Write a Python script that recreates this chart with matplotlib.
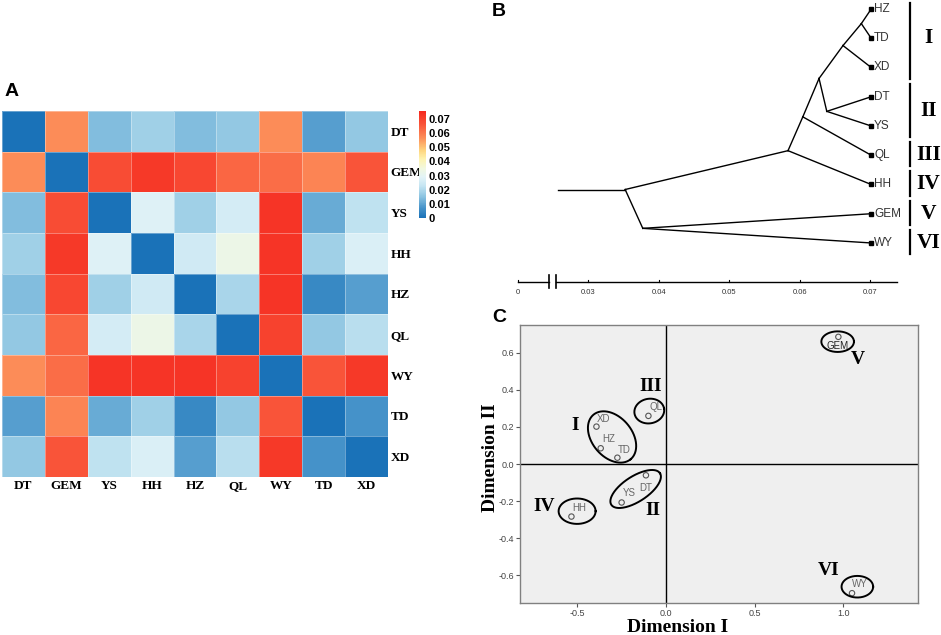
import numpy as np
import matplotlib
matplotlib.use("Agg")
import matplotlib.pyplot as plt
from matplotlib.colors import LinearSegmentedColormap

W, H = 941, 635
fig = plt.figure(figsize=(W / 100, H / 100), dpi=100)
SERIF = "Liberation Serif"
SANS = "Liberation Sans"


def fr(x0, y0, x1, y1):
    return [x0 / W, 1 - y1 / H, (x1 - x0) / W, (y1 - y0) / H]


# ---------------- data ----------------
pops = ["DT", "GEM", "YS", "HH", "HZ", "QL", "WY", "TD", "XD"]
dist = [
    [0.000, 0.057, 0.014, 0.018, 0.014, 0.016, 0.057, 0.009, 0.016],
    [0.057, 0.000, 0.068, 0.072, 0.069, 0.063, 0.062, 0.058, 0.066],
    [0.014, 0.068, 0.000, 0.028, 0.018, 0.026, 0.073, 0.011, 0.022],
    [0.018, 0.072, 0.028, 0.000, 0.025, 0.033, 0.073, 0.018, 0.027],
    [0.014, 0.069, 0.018, 0.025, 0.000, 0.019, 0.073, 0.005, 0.009],
    [0.016, 0.063, 0.026, 0.033, 0.019, 0.000, 0.070, 0.016, 0.021],
    [0.057, 0.062, 0.073, 0.073, 0.073, 0.070, 0.000, 0.066, 0.072],
    [0.009, 0.058, 0.011, 0.018, 0.005, 0.016, 0.066, 0.000, 0.007],
    [0.016, 0.066, 0.022, 0.027, 0.009, 0.021, 0.072, 0.007, 0.000],
]
cbar_ticks = [0, 0.01, 0.02, 0.03, 0.04, 0.05, 0.06, 0.07]
cbar_labels = ["0", "0.01", "0.02", "0.03", "0.04", "0.05", "0.06", "0.07"]

# dendrogram
leaf_order = ["HZ", "TD", "XD", "DT", "YS", "QL", "HH", "GEM", "WY"]
leaf_height = 0.0701
merges = [
    ("n1", "HZ", "TD", 0.0687),
    ("n2", "n1", "XD", 0.0661),
    ("n3", "DT", "YS", 0.0638),
    ("n4", "n2", "n3", 0.0627),
    ("n5", "n4", "QL", 0.0604),
    ("n6", "n5", "HH", 0.0583),
    ("n7", "GEM", "WY", 0.0377),
    ("root", "n6", "n7", 0.0352),
]
root_start = 0.0257
scale_ticks = [0.02, 0.03, 0.04, 0.05, 0.06, 0.07]
scale_labels = ["0", "0.03", "0.04", "0.05", "0.06", "0.07"]
tree_groups = [("I", ["HZ", "TD", "XD"]), ("II", ["DT", "YS"]), ("III", ["QL"]),
               ("IV", ["HH"]), ("V", ["GEM"]), ("VI", ["WY"])]

# PCoA
pcoa_names = ["GEM", "QL", "XD", "HZ", "TD", "DT", "YS", "HH", "WY"]
dim1 = [0.972, -0.099, -0.392, -0.368, -0.274, -0.113, -0.250, -0.533, 1.049]
dim2 = [0.687, 0.260, 0.202, 0.085, 0.034, -0.061, -0.208, -0.284, -0.698]
label_offsets_px = [(-1, -9), (8, 9), (7, 8), (8, 9), (7, 8), (0, -13), (8, 9), (8, 9), (8, 9)]
# clusters: name, centre x, centre y, semi-axes (px), angle, numeral position
clusters = [
    ("I", -0.304, 0.146, 29, 20, -50, -0.510, 0.208),
    ("II", -0.171, -0.135, 29, 12.6, 33, -0.075, -0.251),
    ("III", -0.094, 0.286, 15, 12.3, 10, -0.088, 0.421),
    ("IV", -0.501, -0.255, 18.5, 12.7, 0, -0.685, -0.231),
    ("V", 0.968, 0.661, 16.3, 10.3, 0, 1.081, 0.566),
    ("VI", 1.079, -0.663, 15.8, 10.8, 0, 0.919, -0.573),
]

# ---------------- Panel A ----------------
cmap = LinearSegmentedColormap.from_list(
    "rdylbu_c",
    [(0.0, "#1a72b8"), (0.10, "#4a96cb"), (0.20, "#8cc4e1"), (0.30, "#c5e5f2"),
     (0.38, "#e2f3f7"), (0.46, "#f1f8e0"), (0.55, "#fef3b0"), (0.63, "#fed680"),
     (0.75, "#fc8d59"), (0.87, "#f9563a"), (1.0, "#f5281e")])
axA = fig.add_axes(fr(2, 111, 388, 477))
mesh = axA.pcolormesh(np.array(dist), cmap=cmap, vmin=0, vmax=0.0757,
                      edgecolors=(1, 1, 1, 0.35), linewidth=0.6)
axA.set_xlim(0, 9)
axA.set_ylim(9, 0)
axA.set_xticks(np.arange(9) + 0.5)
axA.set_xticklabels(pops, fontfamily=SERIF, fontweight="bold", fontsize=9.5)
axA.yaxis.tick_right()
axA.set_yticks(np.arange(9) + 0.5)
axA.set_yticklabels(pops, fontfamily=SERIF, fontweight="bold", fontsize=9.5)
axA.tick_params(length=0, pad=2)
for s in axA.spines.values():
    s.set_visible(False)

cax = fig.add_axes(fr(419, 111, 426, 218))
cb = fig.colorbar(mesh, cax=cax, ticks=cbar_ticks)
cb.ax.set_yticklabels(cbar_labels, fontfamily=SANS, fontweight="bold", fontsize=8)
cb.ax.tick_params(length=0, pad=2)
cb.outline.set_visible(False)

fig.text(5 / W, 1 - 91 / H, "A", fontfamily=SANS, fontweight="bold", fontsize=14,
         va="center", ha="left")

# ---------------- Panel B ----------------
axB = fig.add_axes(fr(480, 0, 941, 300))
axB.axis("off")
axB.set_xlim(0.01461, 0.08)
axB.set_ylim(9.95, -0.308)
pos = {n: (leaf_height, i) for i, n in enumerate(leaf_order)}
for name, a, b, h in merges:
    ya, yb = pos[a][1], pos[b][1]
    pos[name] = (h, (ya + yb) / 2)
    for c in (a, b):
        axB.plot([h, pos[c][0]], [pos[name][1], pos[c][1]], color="black", lw=1)
axB.plot([root_start, pos["root"][0]], [pos["root"][1]] * 2, color="black", lw=1)
lx = [pos[n][0] for n in leaf_order]
ly = [pos[n][1] for n in leaf_order]
axB.plot(lx, ly, "s", color="black", ms=3.5, ls="none")
for n in leaf_order:
    axB.text(pos[n][0] + 0.0004, pos[n][1], n, fontfamily=SANS, fontsize=8.5,
             color="#333333", va="center", ha="left")

ysc = 9.33
axB.plot([scale_ticks[0], 0.0244], [ysc, ysc], color="black", lw=1)
axB.plot([0.0254, 0.0738], [ysc, ysc], color="black", lw=1)
for bx in (0.0244, 0.0254):
    axB.plot([bx, bx], [ysc - 0.22, ysc + 0.22], color="black", lw=1.2)
for t, lab in zip(scale_ticks, scale_labels):
    axB.plot([t, t], [ysc, ysc - 0.06], color="black", lw=0.8)
    axB.text(t, ysc + 0.38, lab, fontfamily=SANS, fontsize=5.5, color="#333333",
             ha="center", va="center")

for g, members in tree_groups:
    idx = [leaf_order.index(m) for m in members]
    y0 = max(min(idx) - 0.45, -0.2)
    y1 = max(idx) + 0.38
    axB.plot([0.0756, 0.0756], [y0, y1], color="black", lw=1.6)
    axB.text(0.0782, np.mean(idx), g, fontfamily=SERIF, fontweight="bold", fontsize=15.5,
             ha="center", va="center")

fig.text(492 / W, 1 - 12 / H, "B", fontfamily=SANS, fontweight="bold", fontsize=14,
         va="center", ha="left")

# ---------------- Panel C ----------------
axC = fig.add_axes(fr(520, 325, 918, 603))
axC.set_facecolor("#efefef")
axC.set_xlim(-0.823, 1.421)
axC.set_ylim(-0.751, 0.751)
for s in axC.spines.values():
    s.set_color("#808080")
    s.set_linewidth(1)
axC.axhline(0, color="black", lw=1)
axC.axvline(0, color="black", lw=1)
axC.set_xticks([-0.5, 0.0, 0.5, 1.0])
axC.set_xticklabels(["-0.5", "0.0", "0.5", "1.0"])
axC.set_yticks([-0.6, -0.4, -0.2, 0.0, 0.2, 0.4, 0.6])
axC.set_yticklabels(["-0.6", "-0.4", "-0.2", "0.0", "0.2", "0.4", "0.6"])
axC.tick_params(direction="out", length=3, width=0.8, color="#555555", labelsize=6.5,
                labelcolor="#444444", pad=1.5)
for lab in axC.get_xticklabels() + axC.get_yticklabels():
    lab.set_fontfamily(SANS)

axC.scatter(dim1, dim2, s=15, facecolors="none", edgecolors="#555555", linewidths=0.8,
            zorder=3)
for n, x, y, (dx, dy) in zip(pcoa_names, dim1, dim2, label_offsets_px):
    axC.annotate(n, (x, y), xytext=(dx * 0.72, dy * 0.72), textcoords="offset points",
                 ha="center", va="center", fontfamily=SANS, fontsize=7,
                 color="#222222" if n == "GEM" else "#666666")

sx = 398 / (1.421 + 0.823)
sy = 278 / 1.502
t = np.linspace(0, 2 * np.pi, 200)
for g, cx, cy, a, b, ang, tx, ty in clusters:
    th = np.deg2rad(ang)
    ex = cx + (a * np.cos(t) * np.cos(th) - b * np.sin(t) * np.sin(th)) / sx
    ey = cy + (a * np.cos(t) * np.sin(th) + b * np.sin(t) * np.cos(th)) / sy
    axC.plot(ex, ey, color="black", lw=1.4, zorder=4)
    axC.text(tx, ty, g, fontfamily=SERIF, fontweight="bold", fontsize=14,
             ha="center", va="center", zorder=5)

fig.text(678 / W, 1 - 627 / H, "Dimension I", fontfamily=SERIF, fontweight="bold",
         fontsize=14, ha="center", va="center")
fig.text(490 / W, 1 - 458 / H, "Dimension II", fontfamily=SERIF, fontweight="bold",
         fontsize=14, ha="center", va="center", rotation=90)
fig.text(492 / W, 1 - 317 / H, "C", fontfamily=SANS, fontweight="bold", fontsize=14,
         va="center", ha="left")

fig.savefig("out.png", dpi=100)
